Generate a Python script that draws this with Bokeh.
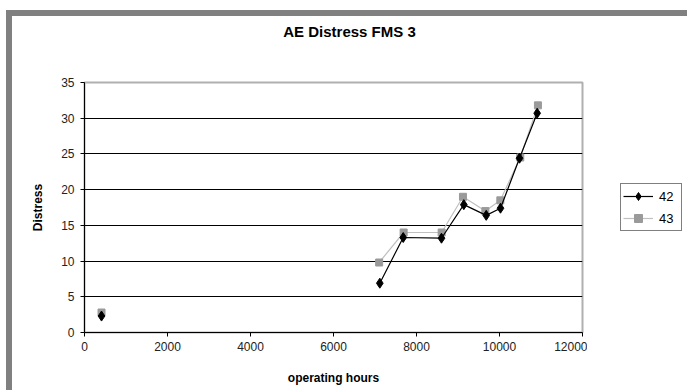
from bokeh.plotting import figure
from bokeh.models import (ColumnDataSource, Legend, LegendItem, FixedTicker, Range1d, Div)
from bokeh.layouts import row, column
from bokeh.embed import file_html
from bokeh.resources import INLINE

# data
hours_42 = [410, 7116, 7680, 8602, 9140, 9680, 10024, 10482, 10908]
distress_42 = [2.3, 6.9, 13.3, 13.2, 17.9, 16.4, 17.4, 24.4, 30.7]
hours_43 = [410, 7100, 7690, 8606, 9120, 9660, 10020, 10500, 10926]
distress_43 = [2.8, 9.8, 14.0, 14.0, 19.0, 17.0, 18.5, 24.5, 31.8]
x_ticks = [0, 2000, 4000, 6000, 8000, 10000, 12000]
y_ticks = [0, 5, 10, 15, 20, 25, 30, 35]
title_text = "AE Distress FMS 3"
x_label = "operating hours"
y_label = "Distress"
series_names = ["42", "43"]

FONT = "Liberation Sans"
C42 = "black"
C43_LINE = "#c0c0c0"
C43_MARK = "#9a9a9a"

title_div = Div(text=title_text, width=675, height=32, margin=0,
                styles={"font-family": "'Liberation Sans', Arial, sans-serif",
                        "font-size": "15px", "font-weight": "bold",
                        "text-align": "center", "line-height": "32px",
                        "color": "black", "background": "white"})

p = figure(width=575, height=342, output_backend="svg", toolbar_location=None,
           x_range=Range1d(0, 12000), y_range=Range1d(0, 35),
           min_border_left=72, min_border_right=5, min_border_top=34,
           min_border_bottom=58, margin=0)
p.background_fill_color = "white"
p.border_fill_color = "white"
p.outline_line_color = "#b0b0b0"
p.outline_line_width = 2

p.xgrid.grid_line_color = None
p.ygrid.grid_line_color = "black"
p.ygrid.grid_line_width = 1
p.ygrid.ticker = FixedTicker(ticks=y_ticks[1:-1])

for ax in (p.xaxis, p.yaxis):
    ax.axis_line_color = "black"
    ax.major_tick_line_color = "black"
    ax.minor_tick_line_color = None
    ax.major_tick_in = 0
    ax.major_tick_out = 4
    ax.major_label_text_font = FONT
    ax.major_label_text_font_size = "12px"
    ax.major_label_text_color = "#222222"
    ax.axis_label_text_font = FONT
    ax.axis_label_text_font_size = "12px"
    ax.axis_label_text_font_style = "bold"
    ax.axis_label_text_color = "black"

p.xaxis.ticker = FixedTicker(ticks=x_ticks)
p.yaxis.ticker = FixedTicker(ticks=y_ticks)
p.xaxis.axis_label = x_label
p.yaxis.axis_label = y_label
p.xaxis.major_label_standoff = 5
p.yaxis.major_label_standoff = 6
p.xaxis.axis_label_standoff = 17
p.yaxis.axis_label_standoff = 13

# the first reading stands alone; the line joins the later readings only
src42 = ColumnDataSource(dict(x=hours_42, y=distress_42))
src43 = ColumnDataSource(dict(x=hours_43, y=distress_43))
line42 = ColumnDataSource(dict(x=hours_42[1:], y=distress_42[1:]))
line43 = ColumnDataSource(dict(x=hours_43[1:], y=distress_43[1:]))

p.line("x", "y", source=line43, line_color=C43_LINE, line_width=1.2)
p.scatter("x", "y", source=src43, marker="square", size=7,
          fill_color=C43_MARK, line_color=C43_MARK)
p.line("x", "y", source=line42, line_color=C42, line_width=1.2)
p.scatter("x", "y", source=src42, marker="diamond", size=10,
          fill_color=C42, line_color=C42)

# legend panel to the right of the plot (its own renderers lie outside its view)
q = figure(width=100, height=342, output_backend="svg", toolbar_location=None,
           x_range=Range1d(0, 1), y_range=Range1d(0, 1),
           min_border=0, x_axis_type=None, y_axis_type=None, margin=0)
q.grid.grid_line_color = None
q.outline_line_color = None
q.background_fill_color = "white"
q.border_fill_color = "white"
ql42 = q.line("x", "y", source=line42, line_color=C42, line_width=1.2)
qm42 = q.scatter("x", "y", source=src42, marker="diamond", size=10,
                 fill_color=C42, line_color=C42)
ql43 = q.line("x", "y", source=line43, line_color=C43_LINE, line_width=1.2)
qm43 = q.scatter("x", "y", source=src43, marker="square", size=7,
                 fill_color=C43_MARK, line_color=C43_MARK)

legend = Legend(items=[LegendItem(label=series_names[0], renderers=[ql42, qm42]),
                       LegendItem(label=series_names[1], renderers=[ql43, qm43])],
                location=(33, 101))
legend.label_text_font = FONT
legend.label_text_font_size = "13px"
legend.label_text_color = "black"
legend.border_line_color = "black"
legend.border_line_width = 1
legend.padding = 2
legend.margin = 0
legend.spacing = 2
legend.glyph_width = 30
legend.glyph_height = 20
legend.label_standoff = 6
legend.label_height = 20
q.add_layout(legend, "center")

layout = column(title_div, row(p, q, spacing=0, margin=0), spacing=0, margin=0,
                styles={"border-top": "6px solid #808080",
                        "border-left": "6px solid #808080",
                        "margin-top": "10px", "margin-left": "6px"})

open("out.html", "w").write(file_html(layout, INLINE))
